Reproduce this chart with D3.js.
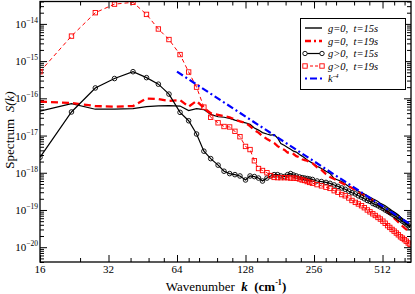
<!DOCTYPE html>
<html>
<head>
<meta charset="utf-8">
<script src="https://cdn.jsdelivr.net/npm/d3@7"></script>
<style>
  body { margin: 0; background: #fff; }
  svg { display: block; font-family: "Liberation Serif", "Times New Roman", serif; }
</style>
</head>
<body>
<svg id="chart" width="415" height="294"></svg>
<script>
// wavenumbers (cm^-1) of the sampled spectrum points
const kGrid = [16, 22, 28, 34, 41, 47, 53, 59, 66, 72,
  78, 84, 90, 97, 103, 109, 115, 121, 128, 134,
  140, 146, 152, 159, 165, 171, 177, 183, 190, 196,
  202, 208, 214, 221, 227, 233, 239, 245, 252, 264,
  276, 289, 301, 314, 326, 339, 351, 364, 376, 389,
  401, 414, 426, 439, 451, 464, 476, 489, 501, 514,
  526, 539, 551, 564, 576, 589, 601, 614, 626, 639,
  651, 664, 676];

// g=0, t=15s
const sG0t15 = [4.5e-17, 7.2e-17, 5.1e-17, 5.1e-17, 5.3e-17, 6.0e-17, 6.3e-17, 6.4e-17, 6.2e-17, 4.7e-17,
  5.3e-17, 5.0e-17, 3.7e-17, 3.2e-17, 3.1e-17, 2.9e-17, 2.6e-17, 2.4e-17, 2.2e-17, 2.0e-17,
  1.6e-17, 1.4e-17, 1.2e-17, 1.1e-17, 1.03e-17, 1.06e-17, 8.6e-18, 6.1e-18, 5.4e-18, 4.8e-18,
  4.3e-18, 3.8e-18, 3.6e-18, 3.1e-18, 2.8e-18, 2.5e-18, 2.2e-18, 2.0e-18, 1.8e-18, 1.5e-18,
  1.3e-18, 1.1e-18, 9.6e-19, 7.0e-19, 6.4e-19, 5.8e-19, 5.0e-19, 4.3e-19, 3.9e-19, 3.5e-19,
  3.2e-19, 2.9e-19, 2.7e-19, 2.4e-19, 2.2e-19, 2.0e-19, 1.85e-19, 1.7e-19, 1.5e-19, 1.4e-19,
  1.3e-19, 1.16e-19, 1.06e-19, 9.6e-20, 8.8e-20, 8.0e-20, 7.3e-20, 6.4e-20, 5.7e-20, 5.0e-20,
  4.5e-20, 3.9e-20, 3.5e-20];

// g=0, t=19s
const sG0t19 = [8.2e-17, 7.5e-17, 6.2e-17, 6.0e-17, 6.2e-17, 9.9e-17, 9.6e-17, 8.5e-17, 9.0e-17, 6.0e-17,
  8.5e-17, 5.5e-17, 4.0e-17, 3.6e-17, 3.3e-17, 3.1e-17, 2.7e-17, 2.4e-17, 2.2e-17, 1.8e-17,
  1.4e-17, 1.2e-17, 9.7e-18, 8.1e-18, 7.1e-18, 6.3e-18, 5.2e-18, 4.6e-18, 4.1e-18, 3.5e-18,
  3.5e-18, 3.2e-18, 2.8e-18, 2.6e-18, 2.3e-18, 2.2e-18, 2.1e-18, 1.9e-18, 1.8e-18, 1.4e-18,
  1.2e-18, 9.2e-19, 7.7e-19, 6.8e-19, 6.0e-19, 5.3e-19, 4.8e-19, 4.3e-19, 3.9e-19, 3.4e-19,
  3.0e-19, 2.7e-19, 2.4e-19, 2.15e-19, 2.0e-19, 1.8e-19, 1.6e-19, 1.45e-19, 1.3e-19, 1.1e-19,
  9.9e-20, 8.8e-20, 7.8e-20, 6.9e-20, 6.0e-20, 5.3e-20, 4.7e-20, 4.2e-20, 3.7e-20, 3.3e-20,
  3.0e-20, 2.7e-20, 2.5e-20];

// g>0, t=15s
const sGpt15 = [2.6e-18, 4.3e-17, 1.9e-16, 3.4e-16, 5.2e-16, 3.6e-16, 2.4e-16, 1.3e-16, 4.2e-17, 2.5e-17,
  1.1e-17, 3.8e-18, 2.4e-18, 1.6e-18, 1.1e-18, 9.5e-19, 8.9e-19, 8.2e-19, 6.4e-19, 8.2e-19,
  7.9e-19, 7.2e-19, 6.0e-19, 7.2e-19, 8.2e-19, 8.9e-19, 8.9e-19, 8.2e-19, 7.9e-19, 8.9e-19,
  9.5e-19, 8.7e-19, 8.2e-19, 7.7e-19, 7.4e-19, 7.2e-19, 7.0e-19, 6.8e-19, 6.6e-19, 6.0e-19,
  5.8e-19, 5.5e-19, 5.2e-19, 4.7e-19, 4.3e-19, 3.9e-19, 3.6e-19, 3.2e-19, 2.9e-19, 2.7e-19,
  2.4e-19, 2.2e-19, 2.0e-19, 1.8e-19, 1.7e-19, 1.5e-19, 1.4e-19, 1.3e-19, 1.2e-19, 1.1e-19,
  1.0e-19, 9.2e-20, 8.5e-20, 7.8e-20, 7.2e-20, 6.6e-20, 6.1e-20, 5.5e-20, 5.0e-20, 4.6e-20,
  4.2e-20, 3.8e-20, 3.4e-20];

// g>0, t=19s
const sGpt19 = [5.2e-16, 4.7e-15, 2.0e-14, 3.4e-14, 3.8e-14, 1.8e-14, 7.3e-15, 3.8e-15, 1.5e-15, 5.1e-16,
  2.0e-16, 5.8e-17, 3.1e-17, 2.2e-17, 1.75e-17, 1.7e-17, 1.3e-17, 9.3e-18, 5.1e-18, 4.2e-18,
  2.1e-18, 1.3e-18, 1.15e-18, 1.0e-18, 8.4e-19, 7.5e-19, 7.4e-19, 7.4e-19, 7.4e-19, 7.4e-19,
  7.2e-19, 7.2e-19, 7.1e-19, 6.8e-19, 6.4e-19, 6.2e-19, 5.8e-19, 5.5e-19, 5.25e-19, 4.8e-19,
  4.45e-19, 4.1e-19, 3.8e-19, 3.3e-19, 3.0e-19, 2.6e-19, 2.4e-19, 2.1e-19, 1.8e-19, 1.6e-19,
  1.45e-19, 1.3e-19, 1.15e-19, 1.0e-19, 8.9e-20, 7.9e-20, 7.1e-20, 6.3e-20, 5.7e-20, 5.0e-20,
  4.4e-20, 3.8e-20, 3.4e-20, 3.0e-20, 2.7e-20, 2.4e-20, 2.15e-20, 1.9e-20, 1.75e-20, 1.6e-20,
  1.45e-20, 1.3e-20, 1.2e-20];

// k^-4 guide line, end points
const refK = [64, 683];
const refS = [5.2e-16, 4.0e-20];

// axis ticks
const xMajor = [16, 32, 64, 128, 256, 512];
const xMinor = [24, 40, 48, 56, 72, 80, 96, 112, 144, 160, 192, 224, 288, 320, 384, 448, 576, 640];
const yExp = [-20, -19, -18, -17, -16, -15, -14];

const legendLabels = ['g=0,  t=15s', 'g=0,  t=19s', 'g>0,  t=15s', 'g>0,  t=19s'];

// -----------------------------------------------------------------
const mL = 40, mR = 411, mT = 1.5, mB = 262;
const svg = d3.select('#chart');

const x = d3.scaleLog().base(2).domain([16, 683]).range([mL, mR]);
const y = d3.scaleLog().domain([4e-21, 4e-14]).range([mB, mT]);

svg.append('defs').append('clipPath').attr('id', 'plot')
  .append('rect').attr('x', mL).attr('y', mT)
  .attr('width', mR - mL).attr('height', mB - mT);

// ticks
const yMinor = y.ticks(60).filter(v => Math.abs(Math.log10(v) - Math.round(Math.log10(v))) > 1e-6);
const yMajor = yExp.map(e => Math.pow(10, e));

function axis(gen, vals, size, tx, ty) {
  const g = svg.append('g').attr('transform', 'translate(' + tx + ',' + ty + ')')
    .call(gen.tickValues(vals).tickSize(size).tickFormat(''));
  g.select('.domain').remove();
  g.selectAll('line').attr('stroke', '#000').attr('stroke-width', 1);
  return g;
}
axis(d3.axisBottom(x), xMajor, -7, 0, mB);
axis(d3.axisBottom(x), xMinor, -4, 0, mB);
axis(d3.axisTop(x), xMajor, -7, 0, mT);
axis(d3.axisTop(x), xMinor, -4, 0, mT);
axis(d3.axisLeft(y), yMajor, -7, mL, 0);
axis(d3.axisLeft(y), yMinor, -4, mL, 0);
axis(d3.axisRight(y), yMajor, -7, mR, 0);
axis(d3.axisRight(y), yMinor, -4, mR, 0);

// tick labels
svg.append('g').selectAll('text').data(xMajor).enter().append('text')
  .attr('x', d => x(d)).attr('y', 273)
  .attr('text-anchor', 'middle').attr('font-size', 11)
  .text(d => d);

const yl = svg.append('g').selectAll('text').data(yExp).enter().append('text')
  .attr('x', 38).attr('y', d => y(Math.pow(10, d)) + 4)
  .attr('text-anchor', 'end').attr('font-size', 11);
yl.append('tspan').text('10');
yl.append('tspan').attr('dy', -5).attr('font-size', 7.5).text(d => '\u2212' + (-d));

// data
const plot = svg.append('g').attr('clip-path', 'url(#plot)');
const line = d3.line().x(d => x(d[0])).y(d => y(d[1]));
const pts = s => kGrid.map((k, i) => [k, s[i]]);

plot.append('path').datum(pts(sG0t15))
  .attr('fill', 'none').attr('stroke', '#000').attr('stroke-width', 1.2)
  .attr('d', line);

plot.append('path').datum(pts(sG0t19))
  .attr('fill', 'none').attr('stroke', '#ff0000').attr('stroke-width', 2.3)
  .attr('stroke-dasharray', '7,4')
  .attr('d', line);

plot.append('path').datum(pts(sGpt15))
  .attr('fill', 'none').attr('stroke', '#000').attr('stroke-width', 1.2)
  .attr('d', line);
plot.append('g').selectAll('circle').data(pts(sGpt15)).enter().append('circle')
  .attr('cx', d => x(d[0])).attr('cy', d => y(d[1])).attr('r', 2.3)
  .attr('fill', 'none').attr('stroke', '#000').attr('stroke-width', 0.9);

plot.append('path').datum(pts(sGpt19))
  .attr('fill', 'none').attr('stroke', '#ff0000').attr('stroke-width', 1)
  .attr('stroke-dasharray', '4,3')
  .attr('d', line);
plot.append('g').selectAll('rect').data(pts(sGpt19)).enter().append('rect')
  .attr('x', d => x(d[0]) - 2.2).attr('y', d => y(d[1]) - 2.2)
  .attr('width', 4.4).attr('height', 4.4)
  .attr('fill', 'none').attr('stroke', '#ff0000').attr('stroke-width', 0.9);

plot.append('path').datum(refK.map((k, i) => [k, refS[i]]))
  .attr('fill', 'none').attr('stroke', '#0000ff').attr('stroke-width', 2.2)
  .attr('stroke-dasharray', '7,3,2,3')
  .attr('d', line);

// frame
svg.append('rect').attr('x', mL).attr('y', mT)
  .attr('width', mR - mL).attr('height', mB - mT)
  .attr('fill', 'none').attr('stroke', '#000').attr('stroke-width', 1.3);

// legend
const lg = svg.append('g');
lg.append('rect').attr('x', 300.5).attr('y', 18.5).attr('width', 105).attr('height', 71)
  .attr('fill', '#fff').attr('stroke', '#000').attr('stroke-width', 1);
const rows = [28, 41, 53.5, 66, 78.5];
const styles = [
  { c: '#000', w: 1.4, dash: null },
  { c: '#ff0000', w: 2.3, dash: '6,3,2,3' },
  { c: '#000', w: 1.2, dash: null, mk: 'circle' },
  { c: '#ff0000', w: 1, dash: '3,2', mk: 'square' },
  { c: '#0000ff', w: 2.2, dash: '2,3,7,3' },
];
styles.forEach((s, i) => {
  const yy = rows[i];
  lg.append('line').attr('x1', 305).attr('x2', 322).attr('y1', yy).attr('y2', yy)
    .attr('stroke', s.c).attr('stroke-width', s.w).attr('stroke-dasharray', s.dash);
  [305, 322].forEach(px => {
    if (s.mk === 'circle') {
      lg.append('circle').attr('cx', px).attr('cy', yy).attr('r', 2.2)
        .attr('fill', '#fff').attr('stroke', '#000').attr('stroke-width', 0.9);
    } else if (s.mk === 'square') {
      lg.append('rect').attr('x', px - 2.2).attr('y', yy - 2.2).attr('width', 4.4).attr('height', 4.4)
        .attr('fill', '#fff').attr('stroke', '#ff0000').attr('stroke-width', 0.9);
    }
  });
  const t = lg.append('text').attr('x', 328).attr('y', yy + 3.5)
    .attr('font-size', 10.5).attr('font-style', 'italic').style('white-space', 'pre');
  if (i < 4) {
    t.text(legendLabels[i]);
  } else {
    t.append('tspan').text('k');
    t.append('tspan').attr('dy', -4).attr('font-size', 7).text('-4');
  }
});

// axis titles
const xt = svg.append('text').attr('x', 226).attr('y', 291)
  .attr('text-anchor', 'middle').attr('font-size', 13).style('white-space', 'pre');
xt.append('tspan').text('Wavenumber  ');
xt.append('tspan').attr('font-weight', 'bold').attr('font-style', 'italic').text('k');
xt.append('tspan').attr('font-weight', 'bold').text('  (cm');
xt.append('tspan').attr('font-weight', 'bold').attr('font-size', 8).attr('dy', -6).text('-1');
xt.append('tspan').attr('font-weight', 'bold').attr('dy', 6).text(')');

const yt = svg.append('text').attr('transform', 'translate(14,130) rotate(-90)')
  .attr('text-anchor', 'middle').attr('font-size', 13).style('white-space', 'pre');
yt.append('tspan').text('Spectrum  ');
yt.append('tspan').attr('font-style', 'italic').text('S(k)');
</script>
</body>
</html>
